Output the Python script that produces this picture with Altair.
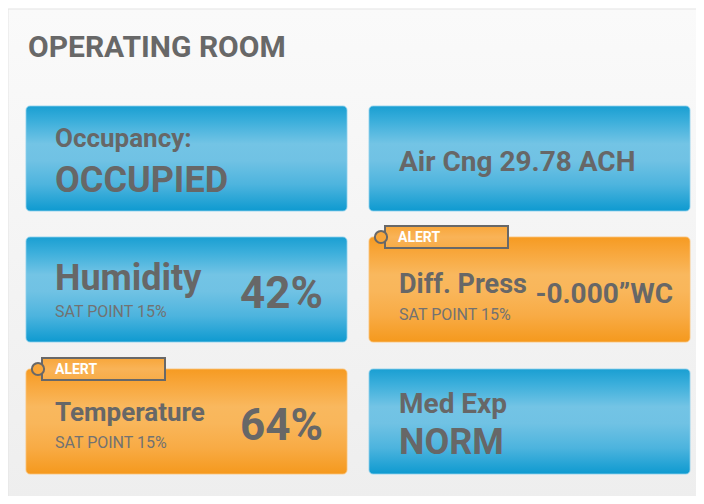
import altair as alt
import pandas as pd

# ---------------- data ----------------
title_text = "OPERATING ROOM"
tile_labels = ["Occupancy:", "Air Cng 29.78 ACH", "Humidity", "Diff. Press", "Temperature", "Med Exp"]
tile_values = ["OCCUPIED", "", "42%", "-0.000\u201dWC", "64%", "NORM"]
tile_subs = ["", "", "SAT POINT 15%", "SAT POINT 15%", "SAT POINT 15%", ""]
tile_status = ["normal", "normal", "normal", "alert", "alert", "normal"]
tile_cols = [0, 1, 0, 1, 0, 1]
tile_rows = [0, 0, 1, 1, 2, 2]
alert_text = "ALERT"

# ---------------- layout (code, not data) ----------------
W, H = 688, 488
COL_X = [18, 361]
ROW_Y = [98, 229, 361]
TILE_W, TILE_H = 321, 105
TEXT_DX = 29

label_style = {0: (41, 26), 1: (65, 28), 2: (53, 36), 3: (56, 27), 4: (52, 26), 5: (44, 28)}
value_style = {0: ("left", TEXT_DX, 86, 36), 2: ("right", 297, 71, 44),
               3: ("right", 304, 66, 28), 4: ("right", 297, 71, 44),
               5: ("left", TEXT_DX + 1, 85, 36)}
sub_dy = {2: 80, 3: 83, 4: 79}

tiles, labels, vleft, vright, subs, tabs, circles, alerts = [], [], [], [], [], [], [], []
for i, lab in enumerate(tile_labels):
    x0 = COL_X[tile_cols[i]]
    y0 = ROW_Y[tile_rows[i]]
    tiles.append(dict(x0=x0, x1=x0 + TILE_W, y0=y0, y1=y0 + TILE_H, status=tile_status[i]))
    dy, fs = label_style[i]
    labels.append(dict(x=x0 + TEXT_DX + (1 if tile_cols[i] else 0), y=y0 + dy, text=lab, size=fs))
    if tile_values[i]:
        al, dx, vdy, vfs = value_style[i]
        row = dict(x=x0 + dx, y=y0 + vdy, text=tile_values[i], size=vfs)
        (vleft if al == "left" else vright).append(row)
    if tile_subs[i]:
        subs.append(dict(x=x0 + TEXT_DX + (1 if tile_cols[i] else 0), y=y0 + sub_dy[i], text=tile_subs[i]))
    if tile_status[i] == "alert":
        tabs.append(dict(x0=x0 + 16, x1=x0 + 139, y0=y0 - 11, y1=y0 + 11))
        circles.append(dict(x=x0 + 12, y=y0))
        alerts.append(dict(x=x0 + TEXT_DX, y=y0 + 5, text=alert_text))

tiles_df = pd.DataFrame(tiles)
xs = alt.Scale(domain=[0, W], nice=False, zero=False)
ys = alt.Scale(domain=[0, H], nice=False, zero=False, reverse=True)


def grad(stops):
    return alt.LinearGradient(gradient="linear", x1=0, x2=0, y1=0, y2=1,
                              stops=[alt.GradientStop(color=c, offset=o) for o, c in stops])


blue = grad([(0, "#1a9fd2"), (0.14, "#3aaedb"), (0.36, "#73c4e5"), (0.52, "#70c2e4"),
             (0.75, "#4db4de"), (1, "#0e9ad0")])
orange = grad([(0, "#f69b22"), (0.14, "#f8a63a"), (0.36, "#f9b85e"), (0.52, "#f9b65a"),
               (0.75, "#f8ab45"), (1, "#f5991d")])
tab_orange = grad([(0, "#f8a63a"), (0.5, "#f9b357"), (1, "#f8ac48")])
panel_grad = grad([(0, "#fafafa"), (1, "#eeeeee")])

X = lambda f: alt.X(f, scale=xs, axis=None)
Y = lambda f: alt.Y(f, scale=ys, axis=None)

panel = alt.Chart(pd.DataFrame([dict(x0=0, x1=W + 4, y0=1, y1=H + 4)])).mark_rect(
    fill=panel_grad, stroke="#e3e3e3", strokeWidth=1
).encode(x=X("x0:Q"), x2="x1:Q", y=Y("y0:Q"), y2="y1:Q")

title = alt.Chart(pd.DataFrame([dict(x=20, y=49, text=title_text)])).mark_text(
    align="left", baseline="alphabetic", font="Roboto", fontWeight="bold",
    fontSize=30, color="#686868"
).encode(x=X("x:Q"), y=Y("y:Q"), text="text:N")

blue_tiles = alt.Chart(tiles_df).transform_filter(alt.datum.status == "normal").mark_rect(
    fill=blue, cornerRadius=4, stroke="#8ccfec", strokeWidth=1, strokeOpacity=0.8
).encode(x=X("x0:Q"), x2="x1:Q", y=Y("y0:Q"), y2="y1:Q")

orange_tiles = alt.Chart(tiles_df).transform_filter(alt.datum.status == "alert").mark_rect(
    fill=orange, cornerRadius=4, stroke="#fbc275", strokeWidth=1, strokeOpacity=0.8
).encode(x=X("x0:Q"), x2="x1:Q", y=Y("y0:Q"), y2="y1:Q")

tab_rects = alt.Chart(pd.DataFrame(tabs)).mark_rect(
    fill=tab_orange, stroke="#686868", strokeWidth=2
).encode(x=X("x0:Q"), x2="x1:Q", y=Y("y0:Q"), y2="y1:Q")

tab_circles = alt.Chart(pd.DataFrame(circles)).mark_point(
    shape="circle", filled=True, fill="#f8a63a", stroke="#686868", strokeWidth=2,
    size=150, opacity=1
).encode(x=X("x:Q"), y=Y("y:Q"))

alert_txt = alt.Chart(pd.DataFrame(alerts)).mark_text(
    align="left", baseline="alphabetic", font="Roboto", fontWeight="bold",
    fontSize=14, color="white"
).encode(x=X("x:Q"), y=Y("y:Q"), text="text:N")


def text_layer(rows, align, weight="bold", color="#676767", size=None):
    base = alt.Chart(pd.DataFrame(rows)).mark_text(
        align=align, baseline="alphabetic", font="Roboto", fontWeight=weight, color=color,
        **({"fontSize": size} if size else {})
    )
    enc = dict(x=X("x:Q"), y=Y("y:Q"), text="text:N")
    if size is None:
        enc["size"] = alt.Size("size:Q", scale=None, legend=None)
    return base.encode(**enc)


label_layer = text_layer(labels, "left")
vleft_layer = text_layer(vleft, "left")
vright_layer = text_layer(vright, "right")
sub_layer = text_layer(subs, "left", weight="normal", color="#727272", size=16)

chart = alt.layer(
    panel, title, blue_tiles, orange_tiles, tab_rects, tab_circles, alert_txt,
    label_layer, vleft_layer, vright_layer, sub_layer
).properties(
    width=W, height=H, padding=0, background="white",
    autosize=alt.AutoSizeParams(type="none")
).configure_view(stroke=None)

chart.save("out.html", embed_options={"renderer": "svg", "actions": False})
